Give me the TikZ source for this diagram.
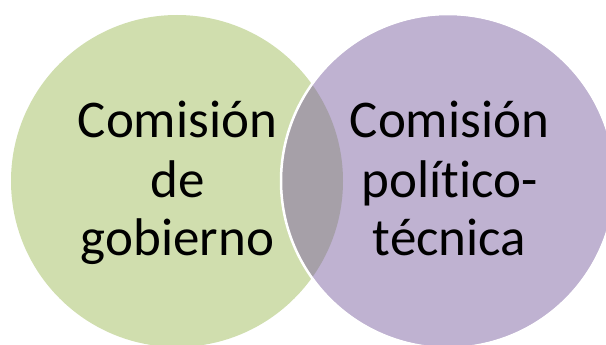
\documentclass[tikz,border=0pt]{standalone}
\usepackage{fontspec}
\setmainfont{Carlito}[Ligatures={NoCommon,NoRequired,NoContextual}]
\definecolor{cgreen}{RGB}{208,222,174}
\definecolor{cpurple}{RGB}{191,178,209}
\definecolor{clens}{RGB}{166,160,168}
\begin{document}
\begin{tikzpicture}[x=1pt,y=-1pt]
\tikzset{lbl/.style={anchor=base,inner sep=0pt,font=\fontsize{53}{58}\selectfont}}
\useasboundingbox (0,0) rectangle (606,345);
\begin{scope}
\clip (0,0) rectangle (606,345);
\fill[cgreen] (177,181) circle (166);
\fill[cpurple] (448,181) circle (166);
\begin{scope}
\clip (177,181) circle (166);
\fill[clens] (448,181) circle (166);
\end{scope}
\draw[white,line width=2.5pt] (448,181) circle (167);
\end{scope}
\node[lbl] (g1) at (177.5,138) {Comisión};
\node[lbl] (g2) at (177.5,197) {de};
\node[lbl] (g3) at (177.5,255) {gobierno};
\node[lbl] (p1) at (449.5,138) {Comisión};
\node[lbl] (p2) at (449.5,197) {polít\kern0pt ico-};
\node[lbl] (p3) at (449.5,255) {técnica};
\end{tikzpicture}
\end{document}
